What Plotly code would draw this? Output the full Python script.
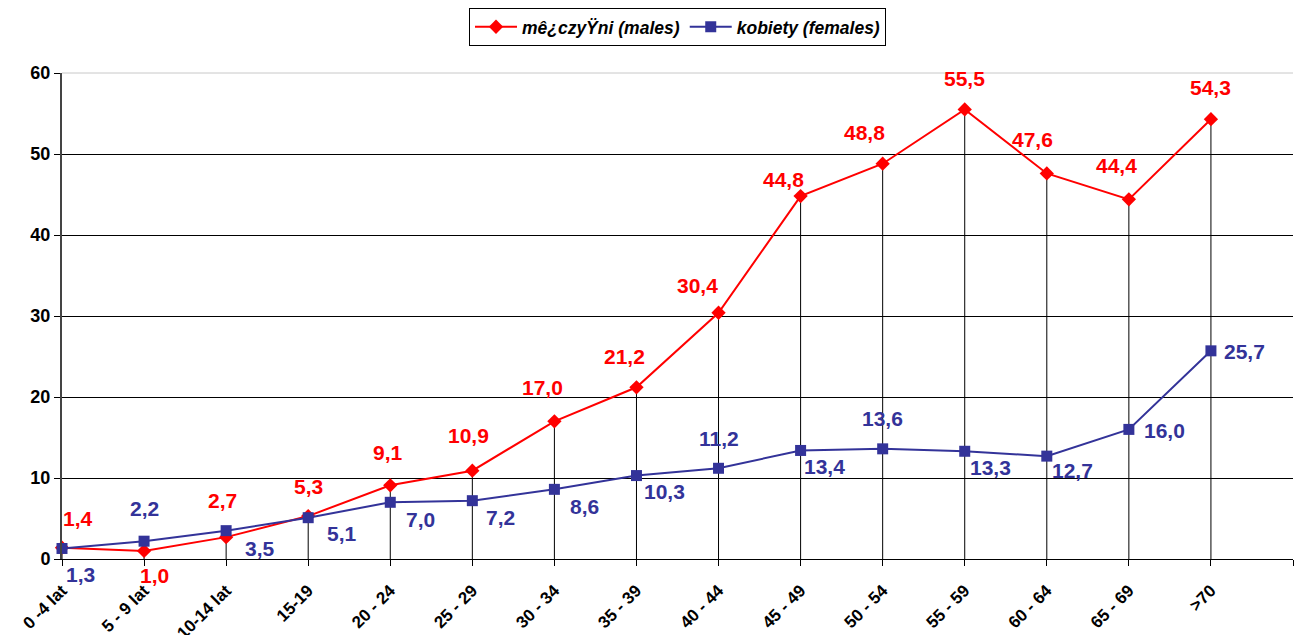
import plotly.graph_objects as go

categories = ["0 -4 lat", "5 - 9 lat", "10-14 lat", "15-19", "20 - 24", "25 - 29", "30 - 34",
              "35 - 39", "40 - 44", "45 - 49", "50 - 54", "55 - 59", "60 - 64", "65 - 69", ">70"]
males = [1.4, 1.0, 2.7, 5.3, 9.1, 10.9, 17.0, 21.2, 30.4, 44.8, 48.8, 55.5, 47.6, 44.4, 54.3]
females = [1.3, 2.2, 3.5, 5.1, 7.0, 7.2, 8.6, 10.3, 11.2, 13.4, 13.6, 13.3, 12.7, 16.0, 25.7]
y_ticks = [0, 10, 20, 30, 40, 50, 60]

# label offsets in pixels (dx right, dy down) - styling only
male_off = [(16, -29), (10, 25), (-4, -37), (0, -30), (-2, -33), (-4, -35), (-12, -34), (-12, -31),
            (-21, -27), (-17, -17), (-18, -31), (0, -31), (-14, -34), (-12, -34), (0, -32)]
fem_off = [(18, 26), (0, -33), (34, 18), (34, 16), (30, 17), (28, 17), (30, 17), (28, 16),
           (0, -30), (24, 16), (0, -30), (26, 16), (26, 14), (36, 1), (34, 1)]

RED = "#ff0000"
BLUE = "#333399"
FONT = "Liberation Sans, Arial, sans-serif"

xs = list(range(len(categories)))

fig = go.Figure()

# drop lines
dx, dy = [], []
for i, (m, f) in enumerate(zip(males, females)):
    dx += [i, i, None]
    dy += [0, max(m, f), None]
fig.add_trace(go.Scatter(x=dx, y=dy, mode="lines", line=dict(color="black", width=1),
                         showlegend=False, hoverinfo="skip", cliponaxis=False))

fig.add_trace(go.Scatter(x=xs, y=males, mode="lines+markers", name="mê¿czyŸni (males)",
                         line=dict(color=RED, width=2),
                         marker=dict(symbol="diamond", size=11, color=RED),
                         cliponaxis=False))
fig.add_trace(go.Scatter(x=xs, y=females, mode="lines+markers", name="kobiety (females)",
                         line=dict(color=BLUE, width=2),
                         marker=dict(symbol="square", size=11, color=BLUE),
                         cliponaxis=False))

def fmt(v):
    return f"{v:.1f}".replace(".", ",")

for i, v in enumerate(males):
    ox, oy = male_off[i]
    fig.add_annotation(x=i, y=v, xref="x", yref="y", text=fmt(v), showarrow=False,
                       xshift=ox, yshift=-oy,
                       font=dict(family=FONT, size=21, color=RED, weight="bold"))
for i, v in enumerate(females):
    ox, oy = fem_off[i]
    fig.add_annotation(x=i, y=v, xref="x", yref="y", text=fmt(v), showarrow=False,
                       xshift=ox, yshift=-oy,
                       font=dict(family=FONT, size=21, color=BLUE, weight="bold"))

# top frame line (light grey)
fig.add_shape(type="line", xref="paper", yref="paper", x0=0, x1=1, y0=1, y1=1,
              line=dict(color="#c8c8c8", width=1), layer="above")

fig.update_layout(
    width=1294, height=635,
    margin=dict(l=62, r=1, t=73, b=76),
    paper_bgcolor="white", plot_bgcolor="white",
    font=dict(family=FONT, color="black"),
    showlegend=True,
    legend=dict(orientation="h", x=0.5, xanchor="center", y=1.134, yanchor="top",
                bordercolor="black", borderwidth=1, bgcolor="white",
                font=dict(family=FONT, size=17.5, color="black", weight="bold", style="italic"),
                itemwidth=42, tracegroupgap=0),
    xaxis=dict(range=[0, 15], tickvals=xs + [15], ticktext=categories + [""],
               tickangle=-45, ticks="outside", ticklen=6, tickcolor="black",
               ticklabelstandoff=8,
               showgrid=False, zeroline=False, showline=True, linecolor="black", linewidth=1,
               automargin=False,
               tickfont=dict(family=FONT, size=17, color="black", weight="bold")),
    yaxis=dict(range=[0, 60], tickvals=y_ticks, ticks="outside", ticklen=6, tickcolor="black",
               showgrid=True, gridcolor="black", gridwidth=1, zeroline=False,
               showline=True, linecolor="#444444", linewidth=2, automargin=False,
               tickfont=dict(family=FONT, size=18, color="black", weight="bold")),
)

fig.write_html("out.html", config={"displayModeBar": False},
               post_script="document.body.style.margin='0';document.body.style.overflow='hidden';")
